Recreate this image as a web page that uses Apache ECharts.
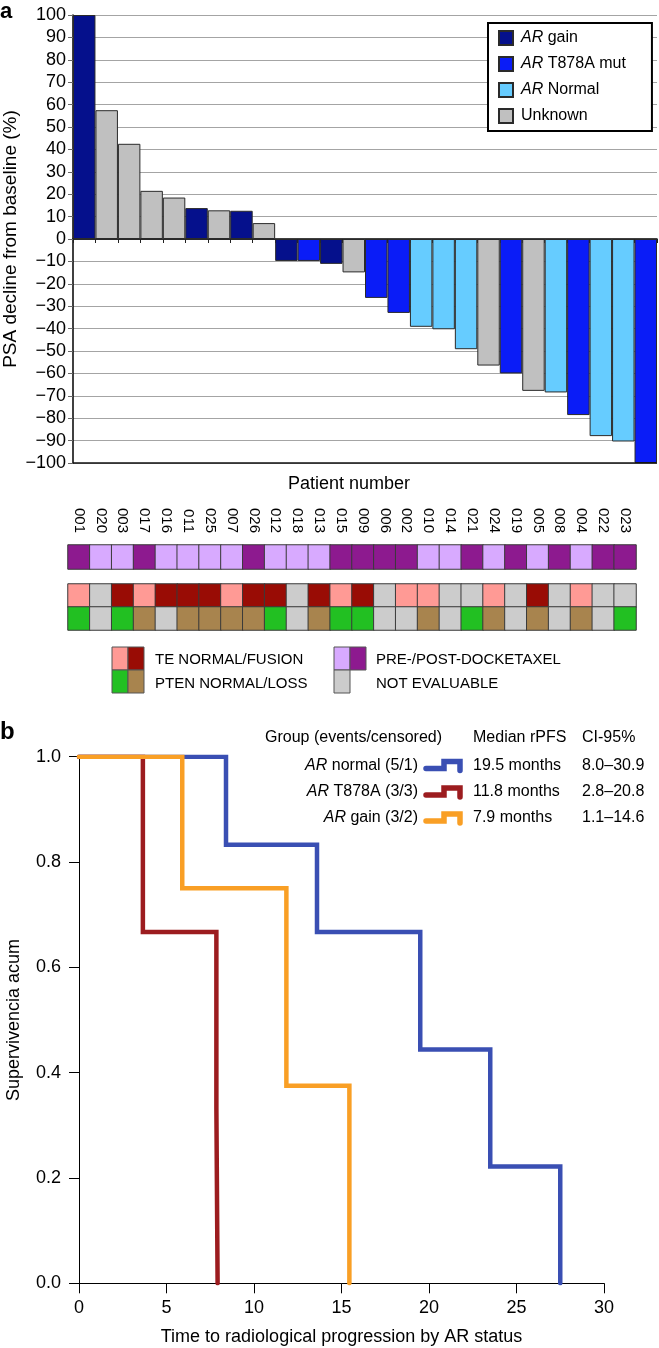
<!DOCTYPE html>
<html>
<head>
<meta charset="utf-8">
<script src="https://cdn.jsdelivr.net/npm/echarts@6.0.0/dist/echarts.min.js"></script>
<style>
  html, body { margin: 0; padding: 0; background: #fff; }
  #chart { width: 659px; height: 1348px; }
</style>
</head>
<body>
<div id="chart"></div>
<script>
// panel a: patients in waterfall order
const patients = ['001','020','003','017','016','011','025','007','026','012','018','013','015','009','006','002','010','014','021','024','019','005','008','004','022','023'];
const psaChange = [100, 57.5, 42.5, 21.5, 18.5, 13.8, 12.8, 12.6, 7.1, -9.8, -9.8, -11.1, -14.9, -26.3, -33, -39.2, -40.3, -49.2, -56.5, -60, -67.8, -68.5, -78.6, -88, -90.4, -100];
const arStatus = ['gain','unknown','unknown','unknown','unknown','gain','unknown','gain','unknown','gain','mut','gain','unknown','mut','mut','normal','normal','normal','unknown','mut','unknown','normal','mut','normal','normal','mut'];
const docetaxel = ['post','pre','pre','post','pre','pre','pre','pre','post','pre','pre','pre','post','post','post','post','pre','pre','post','pre','post','pre','post','pre','post','post'];
const teStatus = ['normal','ne','fusion','normal','fusion','fusion','fusion','normal','fusion','fusion','ne','fusion','normal','fusion','ne','normal','normal','ne','ne','normal','ne','fusion','ne','normal','ne','ne'];
const ptenStatus = ['normal','ne','normal','loss','ne','loss','loss','loss','loss','normal','ne','loss','normal','normal','ne','ne','loss','ne','normal','loss','ne','loss','ne','loss','ne','normal'];
const arGroups = [
  { key: 'gain', name: 'AR gain', color: '#05108c' },
  { key: 'mut', name: 'AR T878A mut', color: '#0a1cf7' },
  { key: 'normal', name: 'AR Normal', color: '#66ccff' },
  { key: 'unknown', name: 'Unknown', color: '#c0c0c0' }
];

// panel b: Kaplan-Meier steps [time, survival]
const kmNormal = [[0, 1], [8.4, 0.833], [13.6, 0.667], [19.5, 0.444], [23.5, 0.222], [27.5, 0]];
const kmMut = [[0, 1], [3.65, 0.667], [7.85, 0.333], [7.92, 0]];
const kmGain = [[0, 1], [5.9, 0.75], [11.85, 0.375], [15.45, 0]];
const kmGroups = ['normal (5/1)', 'T878A (3/3)', 'gain (3/2)'];
const kmMedian = ['19.5 months', '11.8 months', '7.9 months'];
const kmCI = ['8.0\u201330.9', '2.8\u201320.8', '1.1\u201314.6'];
const kmColors = ['#3a4fb3', '#9c1c1f', '#f99f25'];

const FONT = '"Liberation Sans", Arial, sans-serif';
const docColors = { pre: '#d8aaff', post: '#8d1a8f' };
const teColors = { normal: '#ff9a95', fusion: '#990c05', ne: '#cccccc' };
const ptenColors = { normal: '#22c022', loss: '#a8844e', ne: '#cccccc' };

const chart = echarts.init(document.getElementById('chart'), null, { renderer: 'canvas' });

const barSeries = arGroups.map((g, gi) => ({
  type: 'bar',
  name: g.name,
  xAxisIndex: 0,
  yAxisIndex: 0,
  barGap: '-100%',
  barCategoryGap: '0%',
  data: psaChange.map((v, i) => arStatus[i] === g.key ? v : '-'),
  itemStyle: { color: g.color, borderColor: '#2a2a2a', borderWidth: 1 },
  markLine: gi === 0 ? {
    silent: true,
    symbol: 'none',
    label: { show: false },
    lineStyle: { color: '#111', width: 1.5, type: 'solid' },
    data: [{ yAxis: -100 }]
  } : undefined
}));

const docData = docetaxel.map((d, i) => ({ value: [i, 0, 1], itemStyle: { color: docColors[d] } }));
const genData = [];
teStatus.forEach((t, i) => genData.push({ value: [i, 0, 1], itemStyle: { color: teColors[t] } }));
ptenStatus.forEach((p, i) => genData.push({ value: [i, 1, 1], itemStyle: { color: ptenColors[p] } }));

const kmSeries = [kmNormal, kmMut, kmGain].map((d, i) => ({
  type: 'line',
  xAxisIndex: 3,
  yAxisIndex: 3,
  step: 'end',
  symbol: 'none',
  data: d,
  z: 3 + i,
  lineStyle: { color: kmColors[i], width: 4.5, cap: 'round', join: 'miter' }
}));

// graphic elements: labels, bottom legend of panel a, table of panel b
const graphics = [
  { type: 'text', left: 0, top: 1, style: { text: 'a', font: 'bold 22px ' + FONT, fill: '#000' } },
  { type: 'text', left: 0, top: 720, style: { text: 'b', font: 'bold 24px ' + FONT, fill: '#000' } },
  { type: 'text', x: 349, y: 484, style: { text: 'Patient number', font: '18px ' + FONT, fill: '#000', align: 'center', verticalAlign: 'middle' } }
];
const sw = (x, y, w, h, color) => ({ type: 'rect', shape: { x: x, y: y, width: w, height: h }, style: { fill: color, stroke: '#555', lineWidth: 1 } });
graphics.push(sw(112, 647, 16, 23, teColors.normal), sw(128, 647, 16, 23, teColors.fusion));
graphics.push(sw(112, 670, 16, 23, ptenColors.normal), sw(128, 670, 16, 23, ptenColors.loss));
graphics.push(sw(334, 647, 16, 23, docColors.pre), sw(350, 647, 16, 23, docColors.post));
graphics.push(sw(334, 670, 16, 23, '#cccccc'));
[['TE NORMAL/FUSION', 155, 660], ['PTEN NORMAL/LOSS', 155, 684], ['PRE-/POST-DOCKETAXEL', 376, 660], ['NOT EVALUABLE', 376, 684]].forEach(t => {
  graphics.push({ type: 'text', x: t[1], y: t[2], style: { text: t[0], font: '15px ' + FONT, fill: '#000', verticalAlign: 'middle' } });
});

const rowY = [765.5, 792, 818];
graphics.push({ type: 'text', x: 442, y: 738, style: { text: 'Group (events/censored)', font: '16px ' + FONT, fill: '#000', align: 'right', verticalAlign: 'middle' } });
graphics.push({ type: 'text', x: 473, y: 738, style: { text: 'Median rPFS', font: '16px ' + FONT, fill: '#000', verticalAlign: 'middle' } });
graphics.push({ type: 'text', x: 582, y: 738, style: { text: 'CI-95%', font: '16px ' + FONT, fill: '#000', verticalAlign: 'middle' } });
kmGroups.forEach((g, i) => {
  const y = rowY[i];
  graphics.push({
    type: 'text', x: 418, y: y,
    style: {
      text: '{i|AR} ' + g, font: '16px ' + FONT, fill: '#000', align: 'right', verticalAlign: 'middle',
      rich: { i: { fontStyle: 'italic', fontSize: 16, fontFamily: FONT, fill: '#000' } }
    }
  });
  graphics.push({
    type: 'polyline',
    shape: { points: [[426, y + 3], [444, y + 3], [444, y - 4], [460, y - 4], [460, y + 5]] },
    style: { stroke: kmColors[i], lineWidth: 5.5, fill: null, lineCap: 'round', lineJoin: 'miter' }
  });
  graphics.push({ type: 'text', x: 473, y: y, style: { text: kmMedian[i], font: '16px ' + FONT, fill: '#000', verticalAlign: 'middle' } });
  graphics.push({ type: 'text', x: 582, y: y, style: { text: kmCI[i], font: '16px ' + FONT, fill: '#000', verticalAlign: 'middle' } });
});

const option = {
  animation: false,
  backgroundColor: '#fff',
  textStyle: { fontFamily: FONT, color: '#000' },
  grid: [
    { left: 73, top: 15, width: 584, height: 448, outerBoundsMode: 'none' },
    { left: 68, top: 545, width: 568, height: 24, outerBoundsMode: 'none' },
    { left: 68, top: 584, width: 568, height: 46, outerBoundsMode: 'none' },
    { left: 79, top: 756.7, width: 525, height: 526.6, outerBoundsMode: 'none' }
  ],
  legend: {
    data: arGroups.map(g => g.name),
    orient: 'vertical',
    left: 488,
    top: 23,
    padding: [7, 26, 7, 10],
    itemGap: 10,
    itemWidth: 14,
    itemHeight: 14,
    icon: 'rect',
    borderColor: '#000',
    borderWidth: 2,
    backgroundColor: '#fff',
    textStyle: {
      fontSize: 16, color: '#000', fontFamily: FONT, padding: [0, 0, 0, 3],
      rich: { i: { fontStyle: 'italic', fontSize: 16, color: '#000', fontFamily: FONT } }
    },
    formatter: name => name.indexOf('AR ') === 0 ? '{i|AR} ' + name.slice(3) : name
  },
  xAxis: [
    {
      gridIndex: 0, type: 'category', data: patients,
      axisLine: { onZero: true, lineStyle: { color: '#000', width: 1.5 } },
      axisTick: { show: true, length: 4, alignWithLabel: false, interval: 0, lineStyle: { color: '#222' } },
      axisLabel: { show: false },
      splitLine: { show: false }
    },
    {
      gridIndex: 1, type: 'category', data: patients, position: 'top',
      axisLine: { show: false }, axisTick: { show: false },
      axisLabel: { rotate: 90, interval: 0, margin: 12, fontSize: 15, color: '#000' }
    },
    { gridIndex: 2, type: 'category', data: patients, show: false },
    {
      gridIndex: 3, type: 'value', min: 0, max: 30, interval: 5,
      name: 'Time to radiological progression by AR status', nameLocation: 'middle', nameGap: 45,
      nameMoveOverlap: false,
      nameTextStyle: { fontSize: 18, color: '#000' },
      axisLine: { lineStyle: { color: '#000', width: 1 } },
      axisTick: { show: true, length: 10, lineStyle: { color: '#000' } },
      axisLabel: { fontSize: 18, color: '#000', margin: 16 },
      splitLine: { show: false }
    }
  ],
  yAxis: [
    {
      gridIndex: 0, type: 'value', min: -100, max: 100, interval: 10,
      name: 'PSA decline from baseline (%)', nameLocation: 'middle', nameGap: 53,
      nameMoveOverlap: false,
      nameTextStyle: { fontSize: 19, color: '#000' },
      axisLine: { show: true, lineStyle: { color: '#000', width: 1.5 } },
      axisTick: { show: true, length: 5, lineStyle: { color: '#666' } },
      axisLabel: { fontSize: 18, color: '#000', margin: 7, formatter: v => v < 0 ? '\u2212' + Math.abs(v) : String(v) },
      splitLine: { show: true, lineStyle: { color: '#a4a4a4', width: 1.2 } }
    },
    { gridIndex: 1, type: 'category', data: ['DOC'], show: false },
    { gridIndex: 2, type: 'category', data: ['TE', 'PTEN'], inverse: true, show: false },
    {
      gridIndex: 3, type: 'value', min: 0, max: 1, interval: 0.2,
      name: 'Supervivencia acum', nameLocation: 'middle', nameGap: 56,
      nameMoveOverlap: false,
      nameTextStyle: { fontSize: 18, color: '#000' },
      axisLine: { show: true, lineStyle: { color: '#000', width: 1 } },
      axisTick: { show: true, length: 10, lineStyle: { color: '#000' } },
      axisLabel: { fontSize: 18, color: '#000', margin: 18, formatter: v => v.toFixed(1) },
      splitLine: { show: false }
    }
  ],
  series: [
    ...barSeries,
    {
      type: 'heatmap', xAxisIndex: 1, yAxisIndex: 1, data: docData,
      itemStyle: { borderColor: '#3a3a3a', borderWidth: 1 }
    },
    {
      type: 'heatmap', xAxisIndex: 2, yAxisIndex: 2, data: genData,
      itemStyle: { borderColor: '#3a3a3a', borderWidth: 1 }
    },
    ...kmSeries
  ],
  graphic: graphics
};

chart.setOption(option);
</script>
</body>
</html>
